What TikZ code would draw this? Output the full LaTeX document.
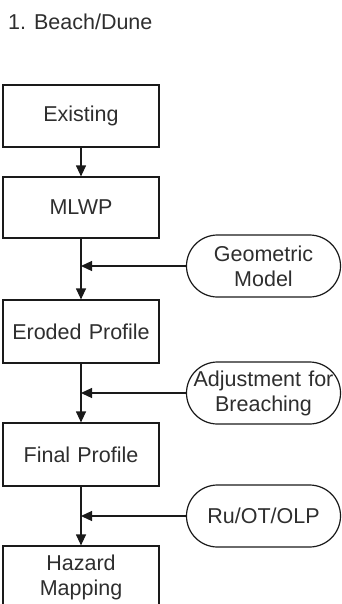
\documentclass[tikz,border=0pt]{standalone}
\usepackage{fontspec}
\setmainfont{Liberation Sans}
\usetikzlibrary{arrows.meta}
\definecolor{txt}{HTML}{2E2E2E}
\definecolor{ln}{HTML}{1A1A1A}
\tikzset{
  stepbox/.style={draw=ln, line width=1.2pt, minimum width=156pt, minimum height=62pt, inner sep=0pt,
    text width=150pt, align=center, text=txt, font=\fontsize{21.5}{25}\selectfont},
  termbox/.style={draw=ln, line width=1.2pt, rounded corners=31pt, minimum width=154pt, minimum height=62pt,
    inner sep=0pt, text width=150pt, align=center, text=txt, font=\fontsize{21.5}{25}\selectfont},
  arr/.style={draw=ln, line width=1.2pt, -{Triangle[length=11pt,width=10pt]}}
}
\begin{document}
\begin{tikzpicture}[x=1pt,y=-1pt]
\useasboundingbox (0,0) rectangle (342,604);
\clip (0,0) rectangle (342,604);
\node[anchor=base west, text=txt, font=\fontsize{21.5}{25}\selectfont, inner sep=0pt] (title) at (8,30) {1. Beach/Dune};
\node[stepbox] (ex) at (81,116) {Existing};
\node[stepbox, minimum height=61pt] (mlwp) at (81,207.5) {MLWP};
\node[stepbox, minimum height=63pt] (er) at (81,331.5) {Eroded Profile};
\node[stepbox, minimum height=63pt] (fin) at (81,454.5) {Final Profile};
\node[stepbox] (haz) at (81,577) {Hazard\\Mapping};
\node[termbox] (geo) at (263.5,266) {Geometric\\Model};
\node[termbox] (adj) at (263.5,393) {Adjustment for\\Breaching};
\node[termbox] (ru) at (263.5,516) {Ru/OT/OLP};
\draw[arr] (ex.south) -- (mlwp.north);
\draw[arr] (mlwp.south) -- (er.north);
\draw[arr] (er.south) -- (fin.north);
\draw[arr] (fin.south) -- (haz.north);
\draw[arr] (geo.west) -- (geo.west -| mlwp.south);
\draw[arr] (adj.west) -- (adj.west -| er.south);
\draw[arr] (ru.west) -- (ru.west -| fin.south);
\end{tikzpicture}
\end{document}
